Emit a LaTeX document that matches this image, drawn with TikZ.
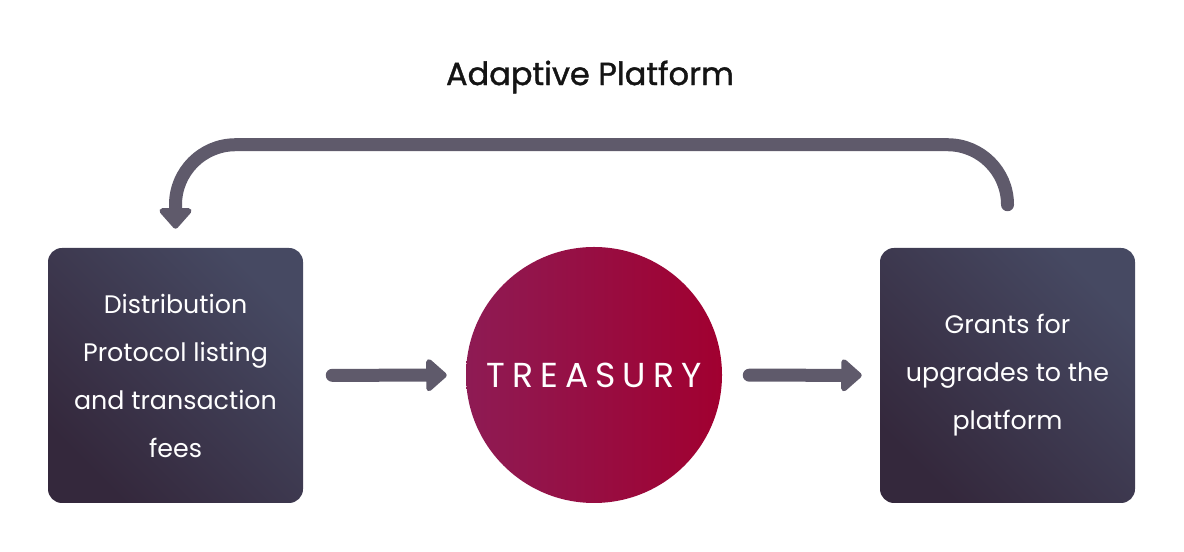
\documentclass[tikz,border=0pt]{standalone}
\usepackage{fontspec}
\setmainfont{Poppins}
\newfontfamily\treasuryfont[LetterSpace=20]{Poppins}
\newfontfamily\headfont[FakeBold=1.2]{Poppins}
\usetikzlibrary{arrows.meta}

\definecolor{flowgray}{RGB}{95,90,107}
\definecolor{boxlight}{RGB}{70,73,98}
\definecolor{boxdark}{RGB}{52,40,60}
\definecolor{plumleft}{RGB}{142,27,84}
\definecolor{plumright}{RGB}{161,0,48}
\definecolor{titleink}{RGB}{20,20,20}

\begin{document}
\begin{tikzpicture}[x=0.75pt, y=0.75pt,
  flowbox/.style={rounded corners=10.5pt, minimum width=191.25pt, minimum height=191.25pt,
    inner sep=0pt, top color=boxlight, bottom color=boxdark, shading angle=-45,
    text=white, align=center, font=\fontsize{19}{36}\selectfont},
  treasurydisc/.style={circle, minimum size=192pt, inner sep=0pt,
    left color=plumleft, right color=plumright, text=white,
    font=\treasuryfont\fontsize{26}{26}\selectfont},
  flowarrow/.style={draw=flowgray, line width=9.75pt, line cap=round,
    -{Triangle[width=28pt, length=16.5pt, round]}}]
\path (0,0) rectangle (1184,552);
\node[text=titleink, font=\headfont\fontsize{24}{28}\selectfont] (title) at (590,475) {Adaptive Platform};
\node[flowbox] (distrib) at (175.5,176.5) {Distribution\\Protocol listing\\and transaction\\fees};
\node[treasurydisc] (treasury) at (594,177) {TREASURY};
\node[flowbox] (grants) at (1007.5,176.5) {Grants for\\upgrades to the\\platform};
\draw[flowarrow, shorten <=21.75pt, shorten >=14.25pt] (distrib) -- (treasury);
\draw[flowarrow, shorten <=20.25pt, shorten >=13.5pt] (treasury) -- (grants);
\draw[flowarrow, rounded corners=45pt] ([yshift=32.25pt]grants.north) -- ++(0,60) -| ([yshift=14.25pt]distrib.north);
\end{tikzpicture}
\end{document}
